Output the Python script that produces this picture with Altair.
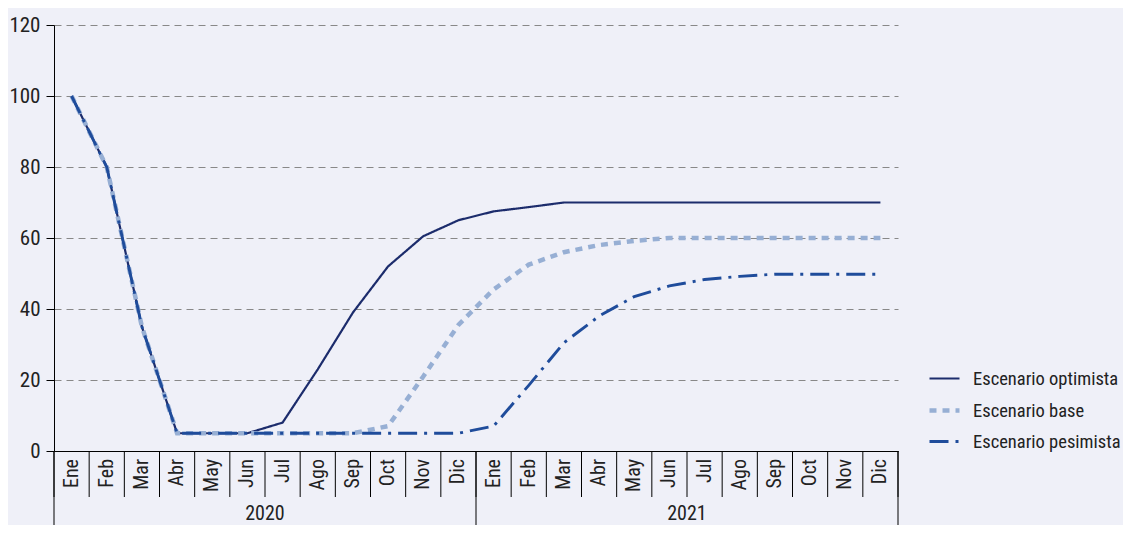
import altair as alt
import pandas as pd

meses = ["Ene", "Feb", "Mar", "Abr", "May", "Jun", "Jul", "Ago", "Sep", "Oct", "Nov", "Dic"]
anios = ["2020", "2021"]

optimista = [100, 80, 35, 5, 5, 5, 8, 23, 39, 52, 60.5, 65,
             67.5, 68.7, 70, 70, 70, 70, 70, 70, 70, 70, 70, 70]
base = [100, 80, 35, 5, 5, 5, 5, 5, 5, 7, 21, 35.5,
        45.5, 52.5, 56, 58, 59.2, 60, 60, 60, 60, 60, 60, 60]
pesimista = [100, 80, 35, 5, 5, 5, 5, 5, 5, 5, 5, 5,
             7, 18.5, 30.5, 38, 43.5, 46.5, 48.3, 49.2, 49.8, 49.8, 49.8, 49.8]

series = ["Escenario optimista", "Escenario base", "Escenario pesimista"]
colores = ["#1c2c6c", "#97afd4", "#1f4c9b"]
dashes = [[1, 0], [7, 6], [19, 7, 3, 7]]
anchos = [2.2, 4.5, 2.9]

FONT = "Roboto Condensed, Liberation Sans Narrow, DejaVu Sans Condensed, sans-serif"
W, H = 844, 426

rows = []
for s, vals in zip(series, [optimista, base, pesimista]):
    for i, v in enumerate(vals):
        rows.append({"i": i, "valor": v, "serie": s})
df = pd.DataFrame(rows)

n = len(meses) * len(anios)
labels_df = pd.DataFrame({"i": list(range(n)), "mes": meses * len(anios)})
sep_mes = pd.DataFrame({"b": [k - 0.5 for k in range(n + 1)]})
sep_anio = pd.DataFrame({"b": [k * 12 - 0.5 for k in range(len(anios) + 1)]})
anio_df = pd.DataFrame({"c": [k * 12 + 5.5 for k in range(len(anios))], "anio": anios})

xscale = alt.Scale(domain=[-0.5, n - 0.5], nice=False, zero=False)

leg = alt.Legend(title=None, orient="none", legendX=W + 29, legendY=H - 89,
                 symbolType="stroke", symbolSize=900,
                 labelFont=FONT, labelFontSize=18.5, labelColor="#222222",
                 rowPadding=5, labelOffset=11)

lines = alt.Chart(df).mark_line(strokeCap="butt", clip=False).encode(
    x=alt.X("i:Q", scale=xscale,
            axis=alt.Axis(labels=False, ticks=False, grid=False, domain=True,
                          domainColor="#000000", domainWidth=1, title=None)),
    y=alt.Y("valor:Q", scale=alt.Scale(domain=[0, 120], nice=False),
            axis=alt.Axis(values=[0, 20, 40, 60, 80, 100, 120], title=None,
                          domainColor="#000000", tickColor="#000000", tickSize=8,
                          labelFont=FONT, labelFontSize=21, labelColor="#222222",
                          labelPadding=6, grid=True, gridColor="#888888",
                          gridDash=[7, 5], gridWidth=1)),
    color=alt.Color("serie:N", sort=series,
                    scale=alt.Scale(domain=series, range=colores), legend=leg),
    strokeDash=alt.StrokeDash("serie:N", sort=series,
                              scale=alt.Scale(domain=series, range=dashes), legend=leg),
    strokeWidth=alt.StrokeWidth("serie:N", sort=series,
                                scale=alt.Scale(type="ordinal", domain=series, range=anchos),
                                legend=leg),
    order=alt.Order("i:Q"),
)

mes_rules = alt.Chart(sep_mes).mark_rule(color="#000000", strokeWidth=1).encode(
    x=alt.X("b:Q", scale=xscale), y=alt.value(H), y2=alt.value(H + 46))
anio_rules = alt.Chart(sep_anio).mark_rule(color="#000000", strokeWidth=1).encode(
    x=alt.X("b:Q", scale=xscale), y=alt.value(H), y2=alt.value(H + 95))
mes_text = alt.Chart(labels_df).mark_text(angle=270, align="right", baseline="middle",
                                          font=FONT, fontSize=20, color="#222222").encode(
    x=alt.X("i:Q", scale=xscale), y=alt.value(H + 8), text="mes:N")
anio_text = alt.Chart(anio_df).mark_text(align="center", baseline="middle",
                                         font=FONT, fontSize=20, color="#222222").encode(
    x=alt.X("c:Q", scale=xscale), y=alt.value(H + 63), text="anio:N")

chart = alt.layer(mes_rules, anio_rules, lines, mes_text, anio_text).properties(
    width=W, height=H,
    background="#eff0f8",
    padding={"left": 46, "top": 17, "right": 225, "bottom": 74},
    autosize=alt.AutoSizeParams(type="none"),
).configure_view(stroke=None).configure_axis(labelFont=FONT)

chart.save("out.html", embed_options={"renderer": "svg", "actions": False})
